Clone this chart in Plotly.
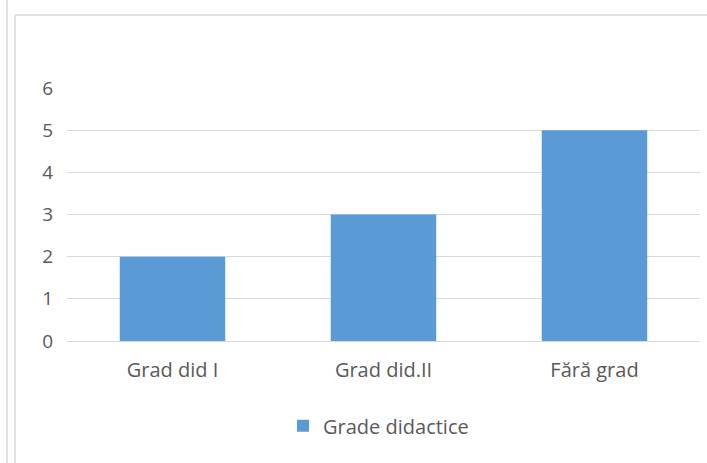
import plotly.graph_objects as go

categories = ["Grad did I", "Grad did.II", "Fără grad"]
values = [2, 3, 5]
series_name = "Grade didactice"
y_ticks = [0, 1, 2, 3, 4, 5, 6]

W, H = 707, 463
PL, PR, PT, PB = 67, 7, 88, 122
pw, ph = W - PL - PR, H - PT - PB

fig = go.Figure()
fig.add_trace(go.Bar(x=categories, y=values, name=series_name,
                     marker=dict(color="#5b9bd5", line=dict(width=0))))

font = "Open Sans, Liberation Sans, sans-serif"
fig.update_layout(
    width=W, height=H,
    margin=dict(l=PL, r=PR, t=PT, b=PB),
    paper_bgcolor="white", plot_bgcolor="white",
    bargap=0.5,
    font=dict(family=font, size=18, color="#595959"),
    showlegend=True,
    legend=dict(orientation="h", x=(283 - PL) / pw, xanchor="left", y=-0.258, yanchor="top",
                font=dict(size=20, color="#595959"), itemwidth=30),
    xaxis=dict(showgrid=False, showline=False, ticks="", tickfont=dict(size=20),
               zeroline=False, ticklabelstandoff=15),
    yaxis=dict(range=[0, 6], tickvals=y_ticks, showgrid=True, gridcolor="#d9d9d9",
               gridwidth=1.3, zeroline=True, zerolinecolor="#d9d9d9", zerolinewidth=1.3,
               showline=False, ticks="", ticklabelstandoff=13, tickfont=dict(size=19)),
    shapes=[
        dict(type="line", xref="paper", yref="paper",
             x0=(7 - PL) / pw, x1=(7 - PL) / pw, y0=-2, y1=2,
             line=dict(color="#d9d9d9", width=1.5)),
        dict(type="line", xref="paper", yref="paper",
             x0=(15 - PL) / pw, x1=(15 - PL) / pw, y0=-PB / ph - 0.1, y1=(ph + PT - 15) / ph,
             line=dict(color="#d9d9d9", width=1.5)),
        dict(type="line", xref="paper", yref="paper",
             x0=(15 - PL) / pw, x1=1.05, y0=(ph + PT - 15) / ph, y1=(ph + PT - 15) / ph,
             line=dict(color="#d9d9d9", width=1.5)),
    ],
)
fig.write_html("out.html", post_script="document.body.style.margin='0';",
               config={"displayModeBar": False})
